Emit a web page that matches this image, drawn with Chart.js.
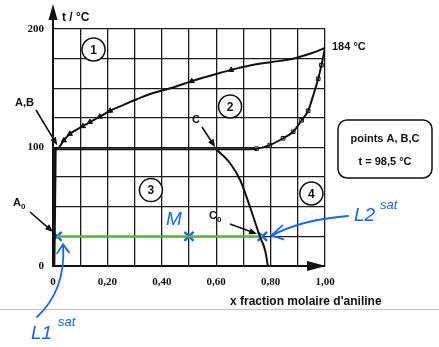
<!DOCTYPE html>
<html>
<head>
<meta charset="utf-8">
<script src="https://cdn.jsdelivr.net/npm/chart.js@4/dist/chart.umd.min.js"></script>
<style>
  html, body { margin: 0; padding: 0; background: #fff; }
  canvas { display: block; }
</style>
</head>
<body>
<canvas id="chart" width="439" height="347"></canvas>
<script>
// vapour (dew) curve, x = mole fraction of aniline, t in °C
const dewLeftX = [0, 0.018];
const dewLeftT = [100, 98.5];
const dewX = [0.018, 0.04, 0.062, 0.11, 0.136, 0.172, 0.21, 0.26, 0.306, 0.355, 0.453, 0.51, 0.6, 0.655, 0.72, 0.8, 0.868, 0.905, 0.95, 1.0];
const dewT = [98.5, 106, 111.5, 118, 121.5, 126, 131, 136, 140.5, 145, 151.5, 156, 162, 165.5, 169, 172, 174.2, 176.3, 179.5, 184];
const dewPointX = [0.04, 0.062, 0.11, 0.136, 0.172, 0.21, 0.51, 0.655];
const dewPointT = [106, 111.5, 118, 121.5, 126, 131, 156, 165.5];

// heteroazeotrope plateau + boiling curve on the aniline side
const boilX = [0.005, 0.3, 0.6, 0.7, 0.748, 0.797, 0.846, 0.883, 0.914, 0.938, 0.958, 0.975, 0.987, 1.0];
const boilT = [98.5, 98.5, 98.5, 98.6, 99, 102, 107.8, 113.3, 123, 131, 145, 158, 169.5, 184];
const boilPointX = [0.748, 0.797, 0.846, 0.883, 0.914, 0.938, 0.975, 0.987];
const boilPointT = [99, 102, 107.8, 113.3, 123, 131, 158, 169.5];

// miscibility curves (L1 side and L2 side)
const misLeftX = [0.008, 0.007, 0.005, 0.004, 0.003];
const misLeftT = [98.5, 75, 50, 25, 0];
const misRightX = [0.6, 0.651, 0.688, 0.724, 0.761, 0.78, 0.79];
const misRightT = [98.5, 86.7, 72.6, 50, 24.7, 13, 0];

// hand drawn tie line at 25 °C: L1 sat, M, L2 sat
const tieX = [0.015, 0.5, 0.77];
const tieT = [25, 25, 25];

const xTickLabels = ["0", "", "0,20", "", "0,40", "", "0,60", "", "0,80", "", "1,00"];
const yTickLabels = { 0: "0", 100: "100", 200: "200" };

const pts = (xs, ts) => xs.map((v, i) => ({ x: v, y: ts[i] }));

const INK = "#111";
const BLUE = "#1766f0";
const SANS = '"Liberation Sans", Arial, sans-serif';
const SERIF = '"Liberation Serif", "Times New Roman", serif';

const arrow = (ctx, x1, y1, x2, y2, head) => {
  const a = Math.atan2(y2 - y1, x2 - x1);
  ctx.beginPath();
  ctx.moveTo(x1, y1);
  ctx.lineTo(x2 - Math.cos(a) * head * 0.6, y2 - Math.sin(a) * head * 0.6);
  ctx.stroke();
  ctx.beginPath();
  ctx.moveTo(x2, y2);
  ctx.lineTo(x2 - head * Math.cos(a) + head * 0.4 * Math.sin(a), y2 - head * Math.sin(a) - head * 0.4 * Math.cos(a));
  ctx.lineTo(x2 - head * Math.cos(a) - head * 0.4 * Math.sin(a), y2 - head * Math.sin(a) + head * 0.4 * Math.cos(a));
  ctx.closePath();
  ctx.fill();
};

const annotate = {
  id: "annotate",
  afterDraw(chart) {
    const { ctx, chartArea: area, scales: { x, y } } = chart;
    const P = (vx, vt) => [x.getPixelForValue(vx), y.getPixelForValue(vt)];
    ctx.save();
    ctx.strokeStyle = INK;
    ctx.fillStyle = INK;

    // axis arrows
    ctx.lineWidth = 2;
    ctx.beginPath();
    ctx.moveTo(area.left, area.top);
    ctx.lineTo(area.left, 14);
    ctx.stroke();
    ctx.beginPath();
    ctx.moveTo(area.left, 4);
    ctx.lineTo(area.left - 4.5, 20);
    ctx.lineTo(area.left + 4.5, 20);
    ctx.closePath();
    ctx.fill();
    ctx.beginPath();
    ctx.moveTo(area.right + 1, area.bottom);
    ctx.lineTo(area.right - 18, area.bottom - 5);
    ctx.lineTo(area.right - 18, area.bottom + 5);
    ctx.closePath();
    ctx.fill();

    // axis titles
    ctx.font = "bold 12px " + SANS;
    ctx.textBaseline = "middle";
    ctx.textAlign = "left";
    ctx.fillText("t / °C", 62, 18);
    ctx.fillText("x fraction molaire d'aniline", 230, 302);

    // circled zone numbers
    [[1, 0.149, 182.7], [2, 0.651, 134.6], [3, 0.36, 64.1], [4, 0.95, 61.2]].forEach(([n, vx, vt]) => {
      const [cx, cy] = P(vx, vt);
      ctx.beginPath();
      ctx.arc(cx, cy, 11.5, 0, Math.PI * 2);
      ctx.fillStyle = "#fff";
      ctx.fill();
      ctx.lineWidth = 1.5;
      ctx.stroke();
      ctx.fillStyle = INK;
      ctx.font = "bold 12px " + SANS;
      ctx.textAlign = "center";
      ctx.fillText(String(n), cx, cy + 1);
    });

    // point labels with arrows
    ctx.font = "bold 11px " + SANS;
    ctx.textAlign = "left";
    ctx.fillText("A,B", 15, 103);
    ctx.fillText("C", 192, 120);
    ctx.fillText("184 °C", 332, 47);
    ctx.fillText("A", 13, 203);
    ctx.fillText("C", 209, 216);
    ctx.font = "bold 8px " + SANS;
    ctx.fillText("0", 21, 207);
    ctx.fillText("0", 217, 220);
    ctx.lineWidth = 1.6;
    let [ax, ay] = P(0.012, 98.5);
    arrow(ctx, 36, 110, ax + 1, ay - 4, 8);
    [ax, ay] = P(0.6, 98.5);
    arrow(ctx, 202, 127, ax - 1, ay - 2, 8);
    [ax, ay] = P(0.004, 27);
    arrow(ctx, 30, 212, ax - 1, ay - 2, 8);
    [ax, ay] = P(0.765, 27);
    arrow(ctx, 230, 224, ax - 4, ay, 8);

    // info box
    ctx.lineWidth = 1.5;
    ctx.beginPath();
    ctx.roundRect(338, 120, 94, 58, 9);
    ctx.stroke();
    ctx.font = "bold 11px " + SANS;
    ctx.textAlign = "center";
    ctx.fillText("points A, B,C", 385, 139);
    ctx.fillText("t = 98,5 °C", 385, 162);

    // page rule
    ctx.strokeStyle = "#c4c4c4";
    ctx.lineWidth = 1;
    ctx.beginPath();
    ctx.moveTo(0, 309.5);
    ctx.lineTo(439, 309.5);
    ctx.stroke();

    // hand written notes
    ctx.strokeStyle = BLUE;
    ctx.fillStyle = BLUE;
    ctx.lineWidth = 1.8;
    ctx.lineCap = "round";
    ctx.textAlign = "left";
    ctx.font = "italic 19px " + SANS;
    ctx.fillText("M", 166, 220);
    ctx.fillText("L1", 31, 334);
    ctx.fillText("L2", 354, 216);
    ctx.font = "italic 13px " + SANS;
    ctx.fillText("sat", 58, 322);
    ctx.fillText("sat", 380, 205);

    const [l1x, l1y] = P(0.015, 25);
    ctx.beginPath();
    ctx.moveTo(37, 317);
    ctx.quadraticCurveTo(66, 290, l1x + 6, l1y + 9);
    ctx.stroke();
    ctx.beginPath();
    ctx.moveTo(l1x, l1y + 17);
    ctx.lineTo(l1x + 6, l1y + 8);
    ctx.lineTo(l1x + 12, l1y + 16);
    ctx.stroke();

    const [l2x, l2y] = P(0.77, 25);
    ctx.beginPath();
    ctx.moveTo(348, 216);
    ctx.quadraticCurveTo(300, 220, l2x + 10, l2y - 1);
    ctx.stroke();
    ctx.beginPath();
    ctx.moveTo(l2x + 20, l2y - 11);
    ctx.lineTo(l2x + 9, l2y - 1);
    ctx.lineTo(l2x + 21, l2y + 3);
    ctx.stroke();

    ctx.restore();
  }
};

new Chart(document.getElementById("chart"), {
  type: "scatter",
  data: {
    datasets: [
      {
        data: pts(boilX, boilT),
        showLine: true,
        borderColor: INK,
        borderWidth: 2,
        pointRadius: 0,
        cubicInterpolationMode: "monotone"
      },
      {
        data: pts(dewLeftX, dewLeftT),
        showLine: true,
        borderColor: INK,
        borderWidth: 2,
        pointRadius: 0
      },
      {
        data: pts(dewX, dewT),
        showLine: true,
        borderColor: INK,
        borderWidth: 2,
        pointRadius: 0,
        tension: 0.35
      },
      {
        data: pts(misRightX, misRightT),
        showLine: true,
        borderColor: INK,
        borderWidth: 2,
        pointRadius: 0,
        cubicInterpolationMode: "monotone"
      },
      {
        data: pts(misLeftX, misLeftT),
        showLine: true,
        borderColor: INK,
        borderWidth: 3,
        pointRadius: 0
      },
      {
        data: pts(dewPointX, dewPointT),
        pointStyle: "triangle",
        pointRadius: 3,
        backgroundColor: INK,
        borderColor: INK,
        borderWidth: 1
      },
      {
        data: pts(boilPointX, boilPointT),
        pointStyle: "rect",
        pointRadius: 2.6,
        backgroundColor: "#fff",
        borderColor: INK,
        borderWidth: 1
      },
      {
        data: pts([tieX[0], tieX[2]], [tieT[0], tieT[2]]),
        showLine: true,
        borderColor: "#5cb53f",
        borderWidth: 2.5,
        pointRadius: 0
      },
      {
        data: pts(tieX, tieT),
        pointStyle: "crossRot",
        pointRadius: 6.5,
        borderColor: BLUE,
        borderWidth: 2.4
      }
    ]
  },
  options: {
    responsive: false,
    animation: false,
    devicePixelRatio: 1,
    layout: { padding: { left: 0, top: 29, right: 114, bottom: 0 } },
    plugins: { legend: { display: false }, tooltip: { enabled: false } },
    scales: {
      x: {
        type: "linear",
        min: 0,
        max: 1,
        afterFit: (s) => { s.height = 81; },
        ticks: {
          stepSize: 0.1,
          autoSkip: false,
          maxRotation: 0,
          padding: 10,
          color: INK,
          font: { family: SERIF, size: 11, weight: "bold" },
          callback: (v) => xTickLabels[Math.round(v * 10)] ?? ""
        },
        grid: { color: "#1c1c1c", lineWidth: 1.3, drawTicks: false },
        border: { color: INK, width: 2 }
      },
      y: {
        min: 0,
        max: 200,
        afterFit: (s) => { s.width = 53; },
        ticks: {
          stepSize: 25,
          autoSkip: false,
          padding: 9,
          color: INK,
          font: { family: SERIF, size: 11, weight: "bold" },
          callback: (v) => yTickLabels[v] ?? ""
        },
        grid: { color: "#1c1c1c", lineWidth: 1.3, drawTicks: false },
        border: { color: INK, width: 2 }
      }
    }
  },
  plugins: [annotate]
});
</script>
</body>
</html>
